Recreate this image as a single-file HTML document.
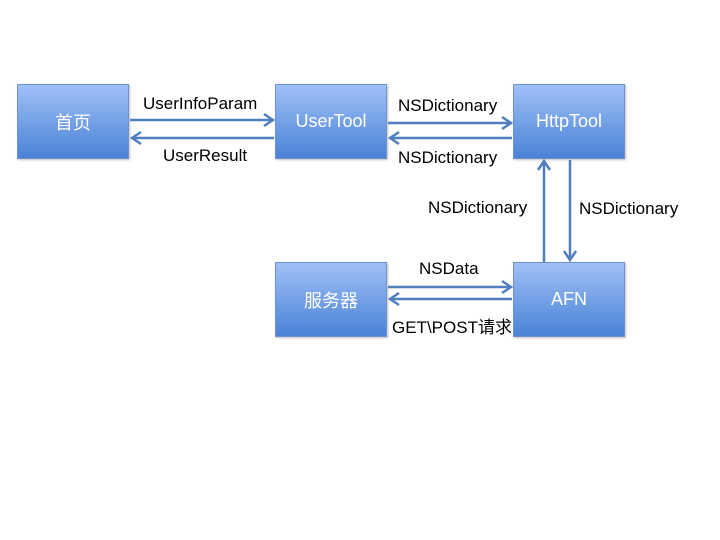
<!DOCTYPE html>
<html><head><meta charset="utf-8"><style>
body{margin:0;width:720px;height:540px;background:#fff;position:relative;overflow:hidden;font-family:"Liberation Sans","Noto Sans CJK SC",sans-serif}
.b{position:absolute;width:112px;height:75px;background:linear-gradient(#a0c0f8,#4a82d6);border:1px solid #6f92c8;box-sizing:border-box;color:#fff;font-size:18px;display:flex;align-items:center;justify-content:center;box-shadow:1px 1px 2px rgba(0,0,0,.25)}
.t{position:absolute;font-size:17px;color:#000;white-space:nowrap}
</style></head><body>
<div class="b" style="left:17px;top:84px">首页</div>
<div class="b" style="left:275px;top:84px">UserTool</div>
<div class="b" style="left:513px;top:84px">HttpTool</div>
<div class="b" style="left:275px;top:262px">服务器</div>
<div class="b" style="left:513px;top:262px">AFN</div>
<svg width="720" height="540" style="position:absolute;left:0;top:0">
<g stroke="#4f7fbf" stroke-width="2.5" fill="none">
<line x1="130" y1="120" x2="272" y2="120"/><polyline points="264,114 273,120 264,126"/>
<line x1="132" y1="138" x2="274" y2="138"/><polyline points="141,132 132,138 141,144"/>
<line x1="388" y1="123" x2="510" y2="123"/><polyline points="502,117 511,123 502,129"/>
<line x1="390" y1="138" x2="512" y2="138"/><polyline points="399,132 390,138 399,144"/>
<line x1="544" y1="262" x2="544" y2="161"/><polyline points="538,170 544,161 550,170"/>
<line x1="570" y1="160" x2="570" y2="260"/><polyline points="564,251 570,260 576,251"/>
<line x1="388" y1="287" x2="510" y2="287"/><polyline points="502,281 511,287 502,293"/>
<line x1="390" y1="299" x2="512" y2="299"/><polyline points="399,293 390,299 399,305"/>
</g></svg>
<div class="t" style="left:143px;top:94px">UserInfoParam</div>
<div class="t" style="left:163px;top:146px">UserResult</div>
<div class="t" style="left:398px;top:96px">NSDictionary</div>
<div class="t" style="left:398px;top:148px">NSDictionary</div>
<div class="t" style="left:428px;top:198px">NSDictionary</div>
<div class="t" style="left:579px;top:199px">NSDictionary</div>
<div class="t" style="left:419px;top:259px">NSData</div>
<div class="t" style="left:392px;top:313px">GET\POST请求</div>
</body></html>
